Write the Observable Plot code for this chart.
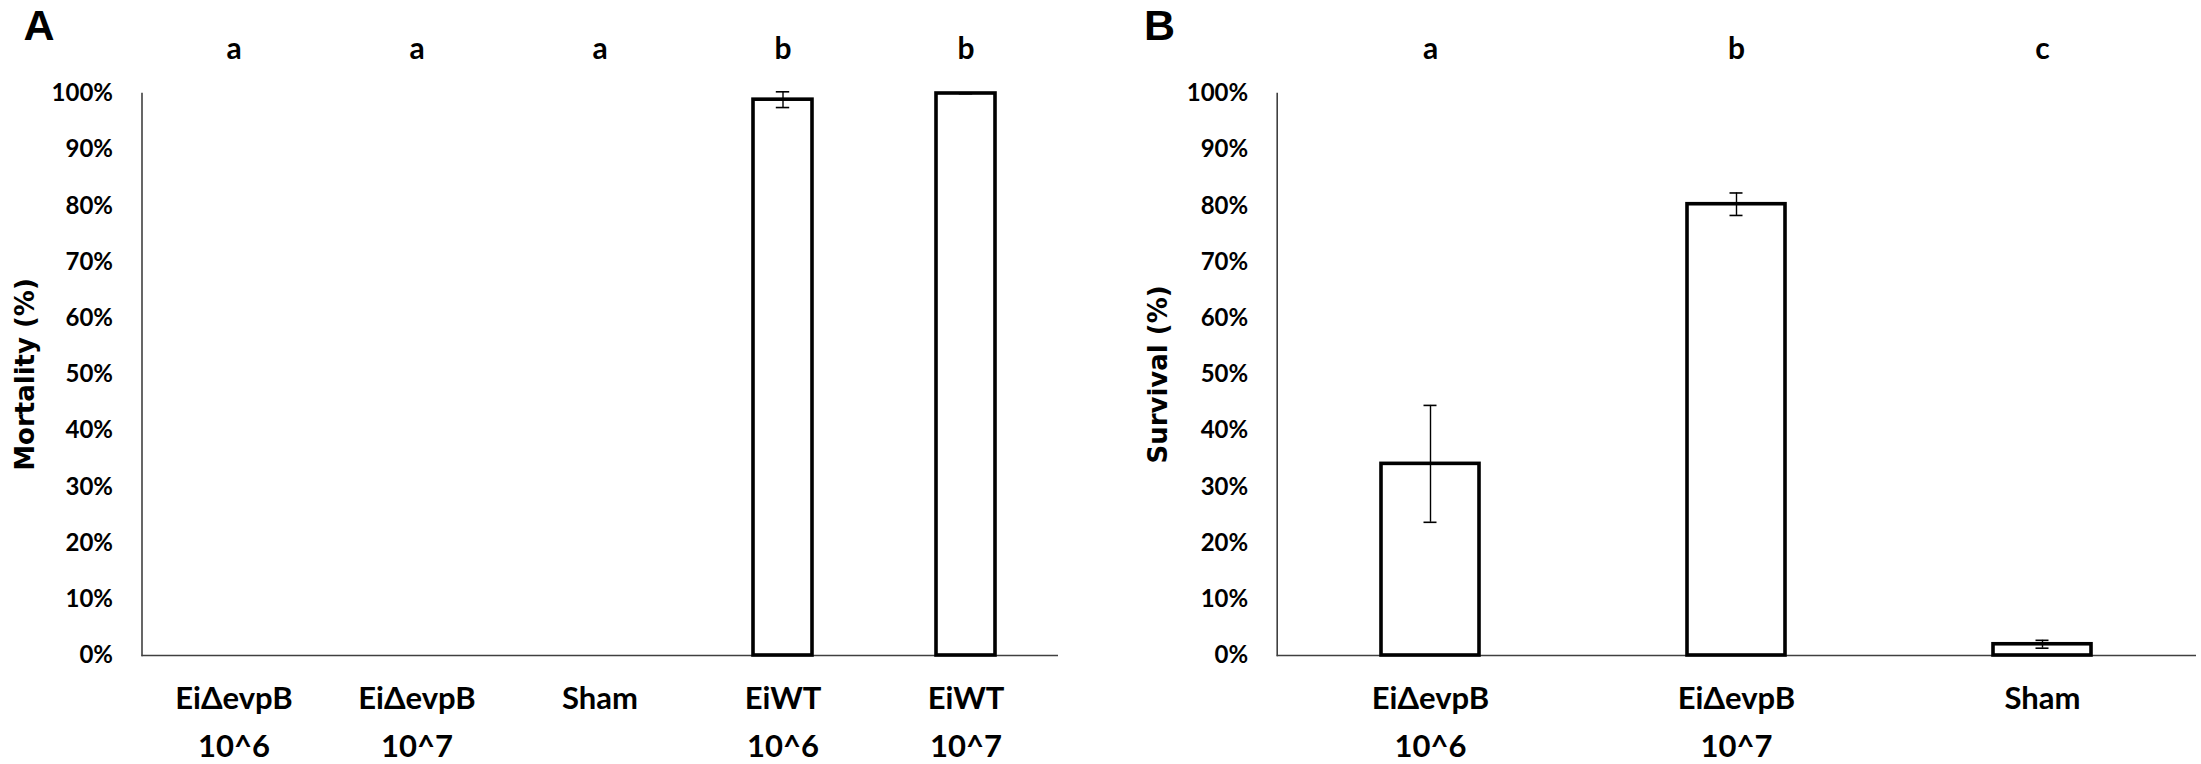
<!DOCTYPE html>
<html><head><meta charset="utf-8">
<script src="https://cdn.jsdelivr.net/npm/d3@7"></script>
<script src="https://cdn.jsdelivr.net/npm/@observablehq/plot@0.6"></script>
<style>
body{margin:0;background:#fff}
#wrap{position:relative;width:2201px;height:764px;overflow:hidden;background:#fff}
#wrap svg{position:absolute;top:0}
</style></head><body><div id="wrap"></div>
<script>
// Panel A data
const categoriesA = ["EiΔevpB\n10^6", "EiΔevpB\n10^7", "Sham", "EiWT\n10^6", "EiWT\n10^7"];
const mortality = [0, 0, 0, 98.9, 100];
const mortalityErr = [0, 0, 0, 1.4, 0];
const lettersA = ["a", "a", "a", "b", "b"];
// Panel B data
const categoriesB = ["EiΔevpB\n10^6", "EiΔevpB\n10^7", "Sham"];
const survival = [34.1, 80.3, 2.0];
const survivalErr = [10.4, 2.0, 0.7];
const lettersB = ["a", "b", "c"];
// Axis ticks
const yTicks = [0, 10, 20, 30, 40, 50, 60, 70, 80, 90, 100];

function panel({cats, vals, errs, letters, title, tag, width, ml, mr, capInset, tagDx, titleDx}) {
  const data = cats.map((c, i) => ({c, v: vals[i], e: errs[i], l: letters[i]}));
  const shown = data.filter(d => d.v > 0);
  return Plot.plot({
    width, height: 764,
    marginLeft: ml, marginRight: mr, marginTop: 93, marginBottom: 109,
    style: {fontFamily: "Lato, 'Open Sans', sans-serif", fontWeight: "bold", color: "#000", background: "transparent", overflow: "visible"},
    x: {domain: cats, paddingInner: 0.68, paddingOuter: 0.34, label: null},
    y: {domain: [0, 100], label: null},
    marks: [
      Plot.axisY({ticks: yTicks, tickFormat: d => d + "%", tickSize: 0, tickPadding: 29, fontSize: 24, label: null}),
      Plot.axisX({tickSize: 0, tickPadding: 19, fontSize: 31, lineHeight: 1.55, label: null}),
      Plot.ruleY([0], {stroke: "#404040", strokeWidth: 1.6}),
      Plot.frame({anchor: "left", stroke: "#404040", strokeWidth: 1.6}),
      Plot.barY(shown, {x: "c", y: "v", fill: "white", stroke: "black", strokeWidth: 3.6}),
      Plot.ruleX(shown, {x: "c", y1: d => d.v - d.e, y2: d => d.v + d.e, stroke: "black", strokeWidth: 1.4}),
      Plot.tickY(shown, {x: "c", y: d => d.v + d.e, insetLeft: capInset, insetRight: capInset, stroke: "black", strokeWidth: 1.6}),
      Plot.tickY(shown, {x: "c", y: d => d.v - d.e, insetLeft: capInset, insetRight: capInset, stroke: "black", strokeWidth: 1.6}),
      Plot.text(data, {x: "c", text: "l", frameAnchor: "top", dy: -44.6, fontSize: 30, lineAnchor: "middle", fill: "#000"}),
      Plot.text([title], {frameAnchor: "left", text: d => d, rotate: -90, dx: titleDx, fontSize: 26, fontFamily: "DejaVu Sans", fontWeight: "bold", textAnchor: "middle", lineAnchor: "middle", fill: "#000"}),
      Plot.text([tag], {frameAnchor: "top-left", text: d => d, dx: tagDx, dy: -67.3, fontSize: 43, fontFamily: "Liberation Sans", fontWeight: "bold", textAnchor: "start", lineAnchor: "middle", fill: "#000"})
    ]
  });
}

const wrap = document.getElementById("wrap");
const a = panel({cats: categoriesA, vals: mortality, errs: mortalityErr, letters: lettersA,
  title: "Mortality (%)", tag: "A", width: 1100, ml: 141.5, mr: 42, capInset: 22.8, tagDx: -118.5, titleDx: -116.8});
a.style.left = "0px";
wrap.appendChild(a);
const b = panel({cats: categoriesB, vals: survival, errs: survivalErr, letters: lettersB,
  title: "Survival (%)", tag: "B", width: 1101, ml: 176.7, mr: 5, capInset: 42.5, tagDx: -133.2, titleDx: -119});
b.style.left = "1100px";
wrap.appendChild(b);
</script></body></html>
